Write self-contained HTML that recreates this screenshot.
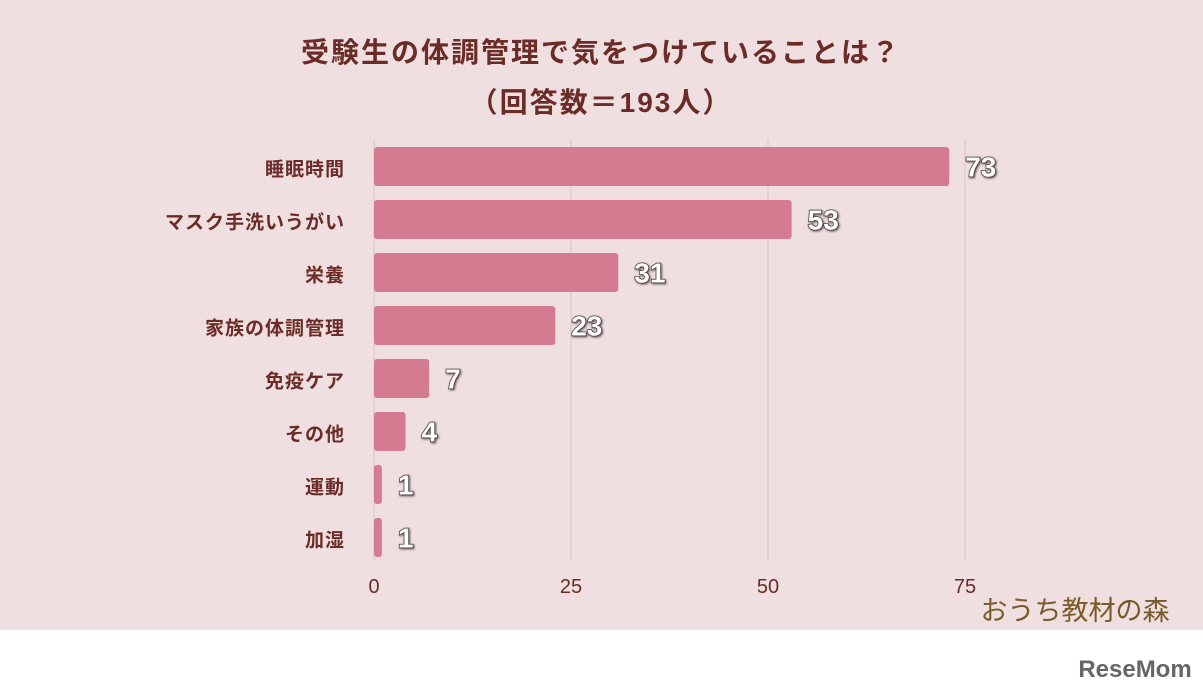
<!DOCTYPE html>
<html><head><meta charset="utf-8">
<style>
body{margin:0;width:1203px;height:693px;overflow:hidden;background:#fff;font-family:"Liberation Sans","Noto Sans CJK JP",sans-serif;}
#bg{position:absolute;left:0;top:0;width:1203px;height:630px;background:#efdfe0;}
svg{position:absolute;left:0;top:0;}
</style></head>
<body>
<div id="bg"></div>
<svg id="chart" width="1203" height="693">
<defs><filter id="sh" x="-20%" y="-20%" width="140%" height="140%"><feDropShadow dx="1" dy="1" stdDeviation="1" flood-color="#3a2a2a" flood-opacity="0.8"/></filter></defs>
<text x="601" y="62" text-anchor="middle" font-size="28" font-weight="bold" fill="#6b2b26" font-family="Liberation Sans,Noto Sans CJK JP,sans-serif" letter-spacing="2">受験生の体調管理で気をつけていることは？</text>
<text x="601" y="112" text-anchor="middle" font-size="28" font-weight="bold" fill="#6b2b26" font-family="Liberation Sans,Noto Sans CJK JP,sans-serif" letter-spacing="2">（回答数＝193人）</text>
<g id="grid"></g><g id="bars"></g><g id="labels"></g>
<text x="1075" y="620" text-anchor="middle" font-size="27" fill="#7a5a2a" font-family="Noto Sans CJK JP,sans-serif">おうち教材の森</text>
<text x="1135" y="677" text-anchor="middle" font-size="24" font-weight="bold" fill="#666">ReseMom</text>
</svg>
<script>
const categories=["睡眠時間","マスク手洗いうがい","栄養","家族の体調管理","免疫ケア","その他","運動","加湿"];
const values=[73,53,31,23,7,4,1,1];
const ticks=[0,25,50,75];
const NS="http://www.w3.org/2000/svg";
const x0=374,scale=197/25,top0=147,step=53,bh=39;
const xs=v=>x0+v*scale;
const g=document.getElementById('grid'),b=document.getElementById('bars'),l=document.getElementById('labels');
function mk(tag,attrs,parent,txt){const e=document.createElementNS(NS,tag);for(const k in attrs)e.setAttribute(k,attrs[k]);if(txt!==undefined)e.textContent=txt;parent.appendChild(e);return e;}
ticks.forEach((t,i)=>{
 const ln=mk('line',{x1:xs(t),x2:xs(t),y1:140,y2:560,stroke:'#d6c6c8','stroke-width':1},g);
 
 
 const tx=mk('text',{x:xs(t),y:593,'text-anchor':'middle','font-size':20,fill:'#6b2b26'},l,t);
 
 
});
categories.forEach((c,i)=>{
 const y=top0+i*step;
 const r=mk('rect',{x:x0,y:y,width:Math.max(values[i]*scale,0),height:bh,rx:3,fill:'#d57b91'},b);
 
 
 const ct=mk('text',{x:345,y:y+bh/2+9,'text-anchor':'end','font-size':19,'font-weight':'bold',fill:'#6b2b26','letter-spacing':1},l,c);
 
 
 const vt=mk('text',{x:xs(values[i])+16,y:y+bh/2+10,'font-size':28,'font-weight':'bold',fill:'#fff',stroke:'#4a3a3a','stroke-width':1.5,style:'paint-order:stroke',filter:'url(#sh)'},l,values[i]);
 
 
});
</script>
</body></html>
